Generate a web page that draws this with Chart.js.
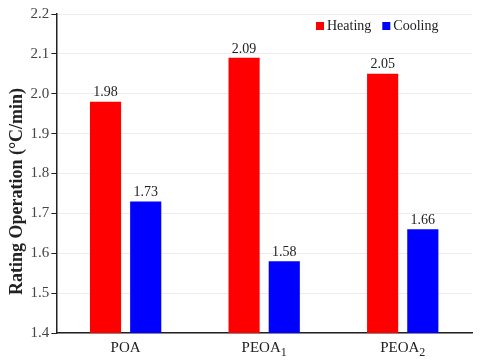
<!DOCTYPE html>
<html><head><meta charset="utf-8">
<script src="https://cdn.jsdelivr.net/npm/chart.js@4"></script>
<style>html,body{margin:0;padding:0;background:#fff}#w{width:480px;height:360px}</style>
</head><body><div id="w"><canvas id="c"></canvas></div>
<script>
const categories = ['POA', 'PEOA\u2081', 'PEOA\u2082'];
const categoryBase = ['POA', 'PEOA', 'PEOA'];
const categorySub = ['', '1', '2'];
const heating = [1.98, 2.09, 2.05];
const cooling = [1.73, 1.58, 1.66];
const yTicks = [1.4, 1.5, 1.6, 1.7, 1.8, 1.9, 2.0, 2.1, 2.2];
const seriesNames = ['Heating', 'Cooling'];

const SERIF = '"Liberation Serif", "DejaVu Serif", serif';

const valueLabels = {
  id: 'valueLabels',
  afterDatasetsDraw(chart) {
    const ctx = chart.ctx;
    ctx.save();
    ctx.font = '14px ' + SERIF;
    ctx.fillStyle = '#222';
    ctx.textAlign = 'center';
    ctx.textBaseline = 'bottom';
    chart.data.datasets.forEach((ds, i) => {
      chart.getDatasetMeta(i).data.forEach((bar, j) => {
        ctx.fillText(ds.data[j].toFixed(2), bar.x, bar.y - 2);
      });
    });
    ctx.restore();
  }
};

const subLabels = {
  id: 'subLabels',
  afterDraw(chart) {
    const ctx = chart.ctx;
    const xs = chart.scales.x;
    ctx.save();
    ctx.fillStyle = '#222';
    ctx.textBaseline = 'alphabetic';
    ctx.textAlign = 'left';
    const base = xs.bottom - 5;
    categoryBase.forEach((b, i) => {
      const cx = xs.getPixelForTick(i);
      ctx.font = '15px ' + SERIF;
      const wb = ctx.measureText(b).width;
      ctx.font = '12px ' + SERIF;
      const ws = categorySub[i] ? ctx.measureText(categorySub[i]).width : 0;
      const x0 = cx - (wb + ws) / 2;
      ctx.font = '15px ' + SERIF;
      ctx.fillText(b, x0, base);
      if (categorySub[i]) {
        ctx.font = '12px ' + SERIF;
        ctx.fillText(categorySub[i], x0 + wb, base + 4);
      }
    });
    ctx.restore();
  }
};

const innerLegend = {
  id: 'innerLegend',
  afterDraw(chart) {
    const ctx = chart.ctx;
    const area = chart.chartArea;
    ctx.save();
    ctx.font = '14px ' + SERIF;
    ctx.textBaseline = 'middle';
    const y = area.top + 12;
    let x = 316;
    chart.data.datasets.forEach((ds) => {
      ctx.fillStyle = ds.backgroundColor;
      ctx.fillRect(x, y - 4, 8, 8);
      ctx.fillStyle = '#222';
      ctx.fillText(ds.label, x + 11, y);
      x += 11 + ctx.measureText(ds.label).width + 11;
    });
    ctx.restore();
  }
};

new Chart(document.getElementById('c'), {
  type: 'bar',
  data: {
    labels: categories,
    datasets: [
      { label: seriesNames[0], data: heating, backgroundColor: 'rgb(255,0,0)' },
      { label: seriesNames[1], data: cooling, backgroundColor: 'rgb(0,0,255)' }
    ]
  },
  options: {
    responsive: true,
    maintainAspectRatio: false,
    animation: false,
    layout: { padding: { top: 14, right: 8, left: 7, bottom: 3 } },
    datasets: { bar: { categoryPercentage: 0.58, barPercentage: 0.775 } },
    plugins: { legend: { display: false }, tooltip: { enabled: false } },
    scales: {
      x: {
        grid: { display: false, drawTicks: false },
        border: { color: '#222', width: 1.5 },
        ticks: { color: 'rgba(0,0,0,0)', font: { family: SERIF, size: 15 }, padding: 3 }
      },
      y: {
        min: 1.4, max: 2.2,
        afterBuildTicks(axis) { axis.ticks = yTicks.map(v => ({ value: v })); },
        grid: { color: '#ececec', tickColor: '#222', tickLength: 5, lineWidth: 1 },
        border: { color: '#222', width: 1.5 },
        ticks: { color: '#444', font: { family: SERIF, size: 15 }, padding: 2,
          callback: (v) => Number(v).toFixed(1) },
        title: { display: true,
          text: 'Rating Operation (\u00B0C/min)' + '\u00A0'.repeat(8), color: '#222',
          font: { family: SERIF, size: 18, weight: 'bold' }, padding: 0 }
      }
    }
  },
  plugins: [valueLabels, subLabels, innerLegend]
});
</script></body></html>
